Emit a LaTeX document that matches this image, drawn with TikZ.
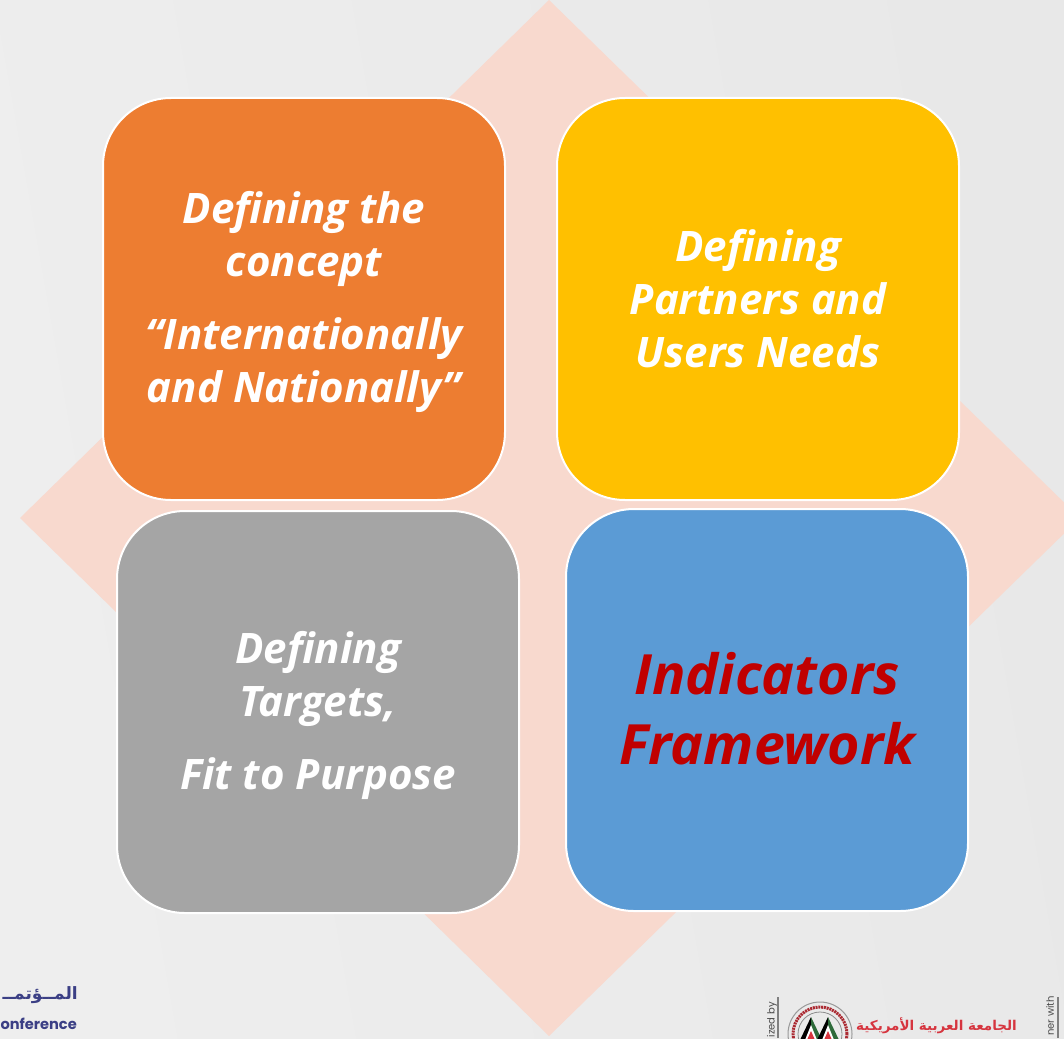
\documentclass[tikz,border=0pt]{standalone}
\usepackage{fontspec}
\setmainfont{Open Sans}
\newfontfamily\arabicfont[Script=Arabic]{DejaVu Sans}
\newfontfamily\labelfont{Poppins}
\TeXXeTstate=1
\definecolor{bgA}{HTML}{EEEEEE}
\definecolor{bgB}{HTML}{E8E8E8}
\definecolor{diamondc}{HTML}{F8D9CE}
\definecolor{orangec}{HTML}{ED7D31}
\definecolor{yellowc}{HTML}{FFC000}
\definecolor{greyc}{HTML}{A5A5A5}
\definecolor{bluec}{HTML}{5B9BD5}
\definecolor{darkredc}{HTML}{C00000}
\definecolor{navyc}{HTML}{3B3F85}
\definecolor{logored}{HTML}{D6353F}
\definecolor{flaggreen}{HTML}{2E6B3A}
\tikzset{
  tile/.style={draw=white,line width=2pt,rounded corners=68pt,minimum width=402pt,minimum height=402pt,inner sep=0pt},
  tiletext/.style={text=white,align=center,inner sep=0pt,font=\fontsize{42}{53}\selectfont\bfseries\itshape},
  bigtext/.style={text=darkredc,align=center,inner sep=0pt,font=\fontsize{55.5}{70}\selectfont\bfseries\itshape},
  footer/.style={inner sep=0pt,anchor=east},
  sidelabel/.style={inner sep=0pt,rotate=90,anchor=east,text=black!70,font=\fontsize{10}{10}\selectfont\labelfont},
  sideline/.style={black!50,line width=1.6pt}
}
\begin{document}
\begin{tikzpicture}[x=1pt,y=-1pt]
\useasboundingbox (0,0) rectangle (1064,1038);
\begin{scope}
\clip (0,0) rectangle (1064,1038);
\shade[left color=bgA,right color=bgB,shading angle=100] (0,0) rectangle (1064,1038);
\fill[diamondc] (549,0) -- (1080,518) -- (549,1036) -- (20,518) -- cycle;
% footer, left
\node[footer,text=navyc,font=\fontsize{17}{17}\selectfont\arabicfont\bfseries] (ftArabic) at (78,995) {\beginR المــؤتمــ\endR};
\node[footer,text=navyc,font=\fontsize{14.6}{14.6}\selectfont\labelfont\bfseries] (ftConf) at (77,1024) {onference};
% footer, right
\node[sidelabel] (ftOrg) at (772,1002) {ized by};
\draw[sideline] (778,997) -- (778,1038);
\draw[black!40,line width=1pt] (820,1034) circle (32pt);
\draw[logored!80!black,line width=3pt,dash pattern=on 2pt off 0.8pt] (820,1034) circle (27pt);
\draw[black!45,line width=.8pt] (820,1034) circle (22pt);
% flags
\foreach \px in {811,828}{
  \fill[black] (\px,1017) -- (\px-11,1040) -- (\px,1040) -- cycle;
  \fill[flaggreen] (\px,1017) -- (\px+11,1040) -- (\px,1040) -- cycle;
  \fill[white] (\px,1025) -- (\px-6,1040) -- (\px+6,1040) -- cycle;
  \fill[logored] (\px,1031) -- (\px-4,1040) -- (\px+4,1040) -- cycle;
}
\node[footer,text=logored,font=\fontsize{13.5}{14}\selectfont\arabicfont\bfseries] (ftUni) at (1017,1026) {\beginR الجامعة العربية الأمريكية\endR};
\node[sidelabel] (ftPartner) at (1050,996) {ner with};
\draw[sideline] (1058,997) -- (1058,1038);
% tiles
\node[tile,fill=orangec] (concept) at (304,299) {};
\node[tile,fill=yellowc] (partners) at (758,299) {};
\node[tile,fill=greyc] (targets) at (318,712) {};
\node[tile,fill=bluec] (framework) at (767,710) {};
\node[tiletext] (conceptText) at ([yshift=-3pt]concept.center) {Defining the\\concept\\[20pt]“Internationally\\and Nationally”};
\node[tiletext] (partnersText) at (partners.center) {Defining\\Partners and\\Users Needs};
\node[tiletext] (targetsText) at ([yshift=-3pt]targets.center) {Defining\\Targets,\\[20pt]Fit to Purpose};
\node[bigtext] (frameworkText) at ([yshift=1pt]framework.center) {Indicators\\Framework};
\end{scope}
\end{tikzpicture}
\end{document}
